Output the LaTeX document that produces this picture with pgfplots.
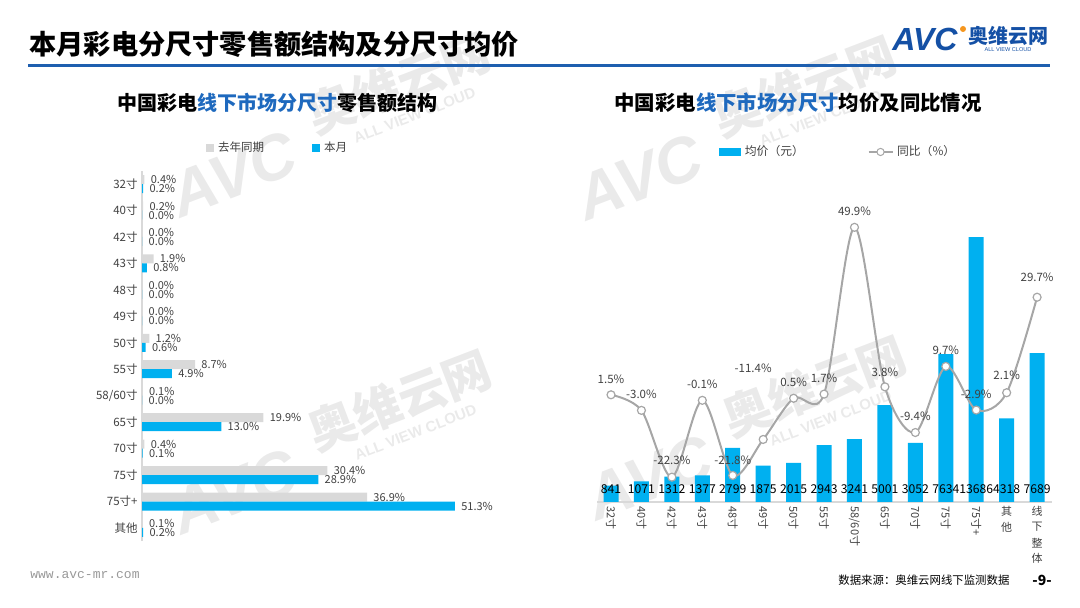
\documentclass[border=0pt]{standalone}
\usepackage{fontspec}
\setmainfont{Noto Sans CJK SC}
\newfontfamily\lsans{Liberation Sans}
\setmonofont{Liberation Mono}
\usepackage{pgfplots}
\pgfplotsset{compat=1.18}
\usepackage{pgfplotstable}
\pgfplotsset{/pgf/number format/assume math mode=true}

\definecolor{avcblue}{RGB}{0,176,240}
\definecolor{lygray}{RGB}{217,217,217}
\definecolor{linegray}{RGB}{166,166,166}
\definecolor{titleblue}{RGB}{30,95,175}
\definecolor{subblue}{RGB}{30,105,190}
\definecolor{logoblue}{RGB}{20,80,165}
\definecolor{logoorange}{RGB}{245,150,30}
\definecolor{txt}{RGB}{64,64,64}
\definecolor{wm}{RGB}{234,234,234}

% share of retail value, %  (y: 13 = 32寸 ... 0 = 其他)
\pgfplotstableread{
y  last  this
13 0.4   0.2
12 0.2   0.04
11 0.04  0.04
10 1.9   0.8
9  0.04  0.04
8  0.04  0.04
7  1.2   0.6
6  8.7   4.9
5  0.1   0.04
4  19.9  13.0
3  0.4   0.1
2  30.4  28.9
1  36.9  51.3
0  0.1   0.2
}\sizes

% average price and yoy change
\pgfplotstableread{
x  p      r      dy    dx
0  841    1.5    8     0
1  1071   -3.0   8     0
2  1312   -22.3  8.5   0
3  1377   -0.1   8     0
4  2799   -21.8  7.5   0
5  1875   -11.4  35.5  -5
6  2015   0.5    8     0
7  2943   1.7    8     0
8  3241   49.9   8     0
9  5001   3.8    7.5   0
10 3052   -9.4   8     0
11 7634   9.7    8     0
12 13686  -2.9   8     0
13 4318   2.1    8.5   0
14 7689   29.7   10    0
}\price

\newcommand\wmark[2]{%
  \begin{scope}[shift={(#1,#2)}, rotate=21, transform shape]
    \node[anchor=south west, inner sep=0, text=wm, font=\bfseries\fontsize{24}{24}\selectfont] at (0,0) {奥维云网};
    \node[anchor=base west, inner sep=0, text=wm, font=\lsans\bfseries\itshape\fontsize{32}{32}\selectfont] at (-156,-24) {AVC};
    \node[anchor=base west, inner sep=0, text=wm, font=\lsans\bfseries\fontsize{7.5}{8}\selectfont] at (35,-17) {ALL VIEW CLOUD};
  \end{scope}}

\begin{document}
\begin{tikzpicture}[x=0.5pt, y=0.5pt]
\path[use as bounding box] (0,0) rectangle (1080,608);
\coordinate (L) at (142,66.8);
\coordinate (R) at (597,106);

% watermarks
\wmark{317}{468}
\wmark{723}{465}
\wmark{318}{151}
\wmark{733}{165}

% header
\node[anchor=west, inner sep=0, font=\bfseries\fontsize{13.6}{15}\selectfont] at (29,564) {本月彩电分尺寸零售额结构及分尺寸均价};
\draw[titleblue, line width=1.5pt] (28,542) -- (1050,542);
\node[anchor=south west, inner sep=0, text=logoblue, font=\lsans\bfseries\itshape\fontsize{16}{16}\selectfont] at (892,557) {AVC};
\fill[logoorange] (963,579) circle (3);
\node[anchor=south west, inner sep=0, text=logoblue, font=\bfseries\fontsize{10}{10}\selectfont] at (968,562) {奥维云网};
\node[anchor=north, inner sep=0, text=logoblue, font=\lsans\fontsize{2.8}{3}\selectfont] at (1008,561) {ALL VIEW CLOUD};

% subtitles
\node[font=\bfseries\fontsize{10}{12}\selectfont] at (277.5,505) {中国彩电\textcolor{subblue}{线下市场分尺寸}零售额结构};
\node[font=\bfseries\fontsize{10.2}{12}\selectfont] at (798,505) {中国彩电\textcolor{subblue}{线下市场分尺寸}均价及同比情况};

% footer
\node[anchor=west, inner sep=0, text=black!40, font=\ttfamily\fontsize{6.5}{7}\selectfont] at (30,33) {www.avc-mr.com};
\node[anchor=west, inner sep=0, font=\fontsize{5.7}{6}\selectfont] at (838,28) {数据来源：奥维云网线下监测数据};
\node[anchor=west, inner sep=0, font=\bfseries\fontsize{7}{8}\selectfont] at (1032,28) {-9-};

% left: retail structure by size
\begin{axis}[
  at={(L)}, anchor=south west, scale only axis,
  width=183pt, height=185.2pt,
  xmin=0, xmax=60, ymin=-0.5, ymax=13.5,
  xbar, bar width=4.5pt,
  axis x line=none, axis y line*=left,
  y axis line style={-, lygray, line width=0.6pt},
  ytick={0,...,13},
  yticklabels={其他,75寸+,75寸,70寸,65寸,58/60寸,55寸,50寸,49寸,48寸,43寸,42寸,40寸,32寸},
  major tick length=0,
  yticklabel style={font=\fontsize{5.75}{6}\selectfont, text=txt, inner sep=2pt},
  point meta=x,
  nodes near coords={\pgfmathprintnumber[fixed,fixed zerofill,precision=1]{\pgfplotspointmeta}\%},
  nodes near coords style={font=\fontsize{5.5}{5.5}\selectfont, text=txt, anchor=west, inner sep=1.5pt, xshift=1.5pt},
  legend columns=2,
  legend style={at={(0.373,1.0616)}, anchor=center, draw=none, fill=none,
    font=\fontsize{5.75}{6}\selectfont, text=txt,
    /tikz/every even column/.append style={column sep=22pt}},
  legend cell align=left,
  clip=false,
]
\addplot[fill=lygray, draw=none, bar shift=2.25pt,
  legend image code/.code={\fill[lygray] (0pt,-2pt) rectangle (4pt,2pt);}]
  table[x=last, y=y]{\sizes};
\addlegendentry{去年同期}
\addplot[fill=avcblue, draw=none, bar shift=-2.25pt,
  legend image code/.code={\fill[avcblue] (0pt,-2pt) rectangle (4pt,2pt);}]
  table[x=this, y=y]{\sizes};
\addlegendentry{本月}
\end{axis}

% right: average price (bars)
\begin{axis}[
  at={(R)}, anchor=south west, scale only axis,
  width=227.5pt, height=151pt,
  xmin=-0.46, xmax=14.49, ymin=0, ymax=15600,
  axis y line=none, axis x line*=bottom,
  x axis line style={-, lygray, line width=0.8pt},
  xtick={0,...,14},
  xticklabels={{\rotatebox{-90}{32寸}},{\rotatebox{-90}{40寸}},{\rotatebox{-90}{42寸}},
    {\rotatebox{-90}{43寸}},{\rotatebox{-90}{48寸}},{\rotatebox{-90}{49寸}},
    {\rotatebox{-90}{50寸}},{\rotatebox{-90}{55寸}},{\rotatebox{-90}{58/60寸}},
    {\rotatebox{-90}{65寸}},{\rotatebox{-90}{70寸}},{\rotatebox{-90}{75寸}},
    {\rotatebox{-90}{75寸+}},{\shortstack{其\\他}},{\shortstack{线\\下\\整\\体}}},
  major tick length=0,
  xticklabel style={font=\fontsize{5.5}{6}\selectfont, text=txt, anchor=north, inner sep=2pt},
  legend columns=2,
  legend style={at={(0.532,1.159)}, anchor=center, draw=none, fill=none,
    font=\fontsize{5.9}{6}\selectfont, text=txt,
    /tikz/every even column/.append style={column sep=30pt}},
  legend cell align=left,
  clip=false,
]
\addplot[ybar, bar width=7.5pt, fill=avcblue, draw=none,
  legend image code/.code={\fill[avcblue] (0pt,-2pt) rectangle (11pt,2pt);}]
  table[x=x, y=p]{\price};
\addlegendentry{均价（元）}
\addplot[only marks, mark=none, forget plot,
  point meta=explicit symbolic, nodes near coords,
  nodes near coords style={anchor=center, font=\fontsize{6.1}{6}\selectfont, text=black, inner sep=0pt}]
  table[x=x, y expr=671, meta=p]{\price};
\addlegendimage{legend image code/.code={
  \draw[linegray, line width=0.6pt] (0pt,0pt) -- (12pt,0pt);
  \draw[linegray, fill=white, line width=0.5pt] (6pt,0pt) circle (1.8pt);}}
\addlegendentry{同比（\%）}
\end{axis}

% right: yoy change (line)
\begin{axis}[
  at={(R)}, anchor=south west, scale only axis,
  width=227.5pt, height=151pt,
  xmin=-0.46, xmax=14.49, ymin=-29.48, ymax=57.80,
  hide axis, clip=false,
]
\addplot[smooth, linegray, line width=1pt,
  mark=*, mark size=2pt, mark options={fill=white, draw=linegray, line width=0.6pt},
  point meta=y,
  visualization depends on={\thisrow{dy} \as \dy},
  visualization depends on={\thisrow{dx} \as \dx},
  nodes near coords={\pgfmathprintnumber[fixed,fixed zerofill,precision=1]{\pgfplotspointmeta}\%},
  nodes near coords style={anchor=center, font=\fontsize{5.75}{6}\selectfont, text=txt,
    inner sep=0pt, yshift={\dy*1pt}, xshift={\dx*1pt}}]
  table[x=x, y=r]{\price};
\end{axis}
\end{tikzpicture}
\end{document}
